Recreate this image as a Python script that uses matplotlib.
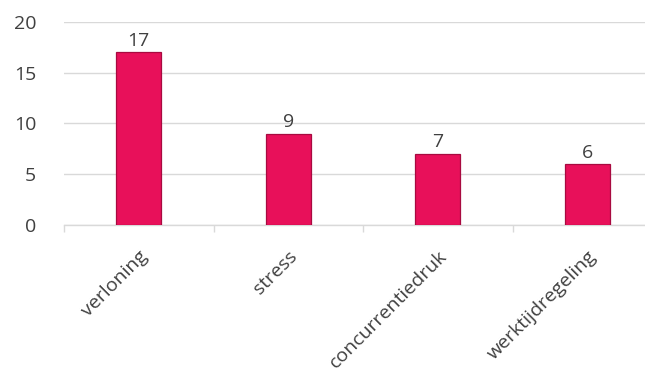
import matplotlib.pyplot as plt
import numpy as np

categories = ["verloning", "stress", "concurrentiedruk", "werktijdregeling"]
values = [17, 9, 7, 6]

plt.rcParams["font.family"] = ["Open Sans", "DejaVu Sans"]

fig = plt.figure(figsize=(6.45, 3.73), dpi=100)
# plot area runs past the right edge of the image, as in the original
ax = fig.add_axes([64 / 645, 1 - 225 / 373, 598 / 645, 203 / 373])

x = np.arange(len(categories))
bars = ax.bar(x, values, width=0.3, color="#E8105A", edgecolor="#A80A40",
              linewidth=0.9, zorder=3)

for bar, v in zip(bars, values):
    ax.text(bar.get_x() + bar.get_width() / 2, v + 0.25, str(v),
            ha="center", va="bottom", fontsize=14, color="#404040")

ax.set_xlim(-0.5, len(categories) - 0.5)
ax.set_ylim(0, 20)
ax.set_yticks([0, 5, 10, 15, 20])
ax.yaxis.grid(True, color="#D9D9D9", linewidth=1, zorder=0)

ax.set_xticks(x)
ax.set_xticklabels(categories, rotation=45, ha="right", rotation_mode="anchor",
                   fontsize=14, color="#404040")
ax.set_xticks(np.arange(-0.5, len(categories), 1), minor=True)
ax.tick_params(axis="x", which="major", length=0, pad=16)
ax.tick_params(axis="x", which="minor", length=5, color="#D9D9D9", width=1)
ax.tick_params(axis="y", length=0, labelsize=14, labelcolor="#404040", pad=20)

for side in ["top", "right", "left"]:
    ax.spines[side].set_visible(False)
ax.spines["bottom"].set_color("#D9D9D9")
ax.spines["bottom"].set_linewidth(1)

fig.savefig("out.png", dpi=100)
